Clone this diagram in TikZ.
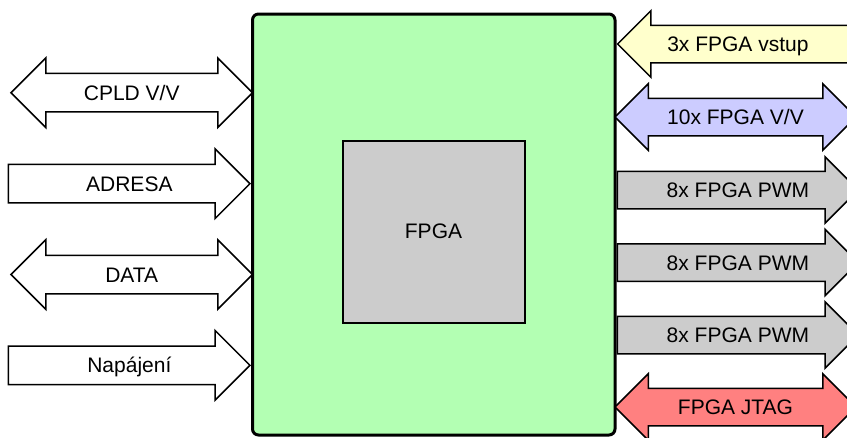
\documentclass[tikz,border=0pt]{standalone}
\usepackage{fontspec}
\setmainfont{Liberation Sans}
\usepackage{tikz}
\usetikzlibrary{positioning,shapes.arrows,calc}
\definecolor{czelena}{HTML}{B3FFB3}
\definecolor{cseda}{HTML}{CCCCCC}
\definecolor{czluta}{HTML}{FFFFCC}
\definecolor{cfialova}{HTML}{CCCCFF}
\definecolor{ccervena}{HTML}{FF8080}
\tikzset{
  deska/.style={rectangle, rounded corners=6pt, draw, line width=3pt, fill=czelena,
    minimum width=362.5pt, minimum height=421pt},
  obvod/.style={rectangle, draw, line width=2pt, fill=cseda, minimum size=182pt},
  % sirka driku dana vyskou textu a inner ysep
  sipka/.style={single arrow, draw, line width=1.5pt, fill=white,
    text height=15pt, text depth=0pt, inner xsep=0pt, inner ysep=11pt,
    single arrow head extend=15.5pt, minimum height=241.5pt},
  dsipka/.style={double arrow, draw, line width=1.5pt, fill=white,
    text height=15pt, text depth=0pt, inner xsep=0pt, inner ysep=11pt,
    double arrow head extend=15.5pt, minimum height=241.5pt},
  sipkap/.style={sipka, inner ysep=10.5pt, single arrow head extend=14.5pt, minimum height=241pt},
  dsipkap/.style={dsipka, inner ysep=10.5pt, double arrow head extend=14.5pt, minimum height=241pt},
  popis/.style={inner sep=0pt, text height=15pt, text depth=0pt},
}

\begin{document}
\begin{tikzpicture}[x=1pt, y=-1pt, font=\fontsize{21}{25}\selectfont]
  \useasboundingbox (0,0) rectangle (847,437);
  % deska s FPGA
  \node[deska] (deska) at (433.75,224.5) {};
  \node[obvod] (fpga) at (433.5,231.7) {FPGA};
  % vstupy a sbernice vlevo
  \node[dsipka] (cpld) at (131.75,92.7) {CPLD V/V};
  \node[sipka, anchor=tip] (adresa) at (deska.west |- 0,183.7) {};
  \node[popis] (adresa-t) at ($(adresa.tail)!.5!(adresa.tip)$) {ADRESA};
  \node[dsipka] (data) at (131.75,274.5) {DATA};
  \node[sipka, anchor=tip] (napajeni) at (deska.west |- 0,365.3) {};
  \node[popis] (napajeni-t) at ($(napajeni.tail)!.5!(napajeni.tip)$) {Napájení};
  % signaly vpravo
  \node[sipkap, fill=czluta, shape border rotate=180, anchor=tip] (vstup) at (deska.east |- 0,44) {};
  \node[popis] (vstup-t) at ($(vstup.tail)!.5!(vstup.tip)$) {3x FPGA vstup};
  \node[dsipkap, fill=cfialova] (vv) at (735.5,117) {10x FPGA V/V};
  \foreach \i/\y in {1/190, 2/262.5, 3/335} {
    \node[sipkap, fill=cseda, anchor=tail] (pwm\i) at (deska.east |- 0,\y) {};
    \node[popis] (pwm\i-t) at ($(pwm\i.tail)!.5!(pwm\i.tip)$) {8x FPGA PWM};
  }
  \node[dsipkap, fill=ccervena] (jtag) at (735.5,407) {FPGA JTAG};
\end{tikzpicture}
\end{document}
